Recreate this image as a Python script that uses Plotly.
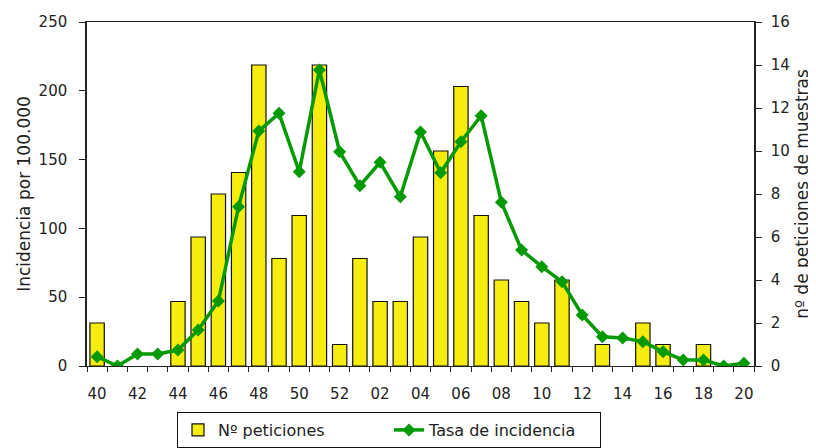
import plotly.graph_objects as go

weeks = ["40","41","42","43","44","45","46","47","48","49","50","51","52",
         "01","02","03","04","05","06","07","08","09","10","11","12","13","14",
         "15","16","17","18","19","20"]
peticiones = [2,0,0,0,3,6,8,9,14,5,7,14,1,
              5,3,3,6,10,13,7,4,3,2,4,0,1,0,2,1,0,1,0,0]
incidencia = [6.8,0,8.7,8.7,11.6,26.2,47.2,115.8,170.8,183.6,141.2,215.1,155.7,
              131.0,148.0,123.0,170.1,140.5,163.0,181.9,119.0,84.3,72.2,61.3,37.1,
              21.3,20.3,17.7,10.4,4.4,4.4,0,2.0]
tick_labels = [w if i % 2 == 0 else "" for i, w in enumerate(weeks)]

FONT = "DejaVu Sans"
# page body has an 8px margin: figure drawn at (8, 8)
W, H = 808, 440
L, R, T, B = 79, 62, 14, 0
plot_w = W - L - R
plot_h = H - T - B
axis_bottom = (H - B - 358) / plot_h

fig = go.Figure()
fig.add_trace(go.Bar(
    x=weeks, y=peticiones, name="Nº peticiones", yaxis="y",
    marker=dict(color="#F7EC0F",
                line=dict(color="#111", width=[1.2 if v > 0 else 0 for v in peticiones])),
))
fig.add_trace(go.Scatter(
    x=weeks, y=incidencia, name="Tasa de incidencia", yaxis="y2",
    mode="lines+markers",
    line=dict(color="#049A04", width=3.5),
    marker=dict(symbol="diamond", size=10, color="#049A04"),
))
fig.update_layout(
    width=W, height=H,
    margin=dict(l=L, r=R, t=T, b=B),
    paper_bgcolor="white", plot_bgcolor="white",
    font=dict(family=FONT, size=15, color="#222"),
    bargap=0.29,
    showlegend=True,
    legend=dict(orientation="h", x=(169 - L) / plot_w, xanchor="left",
                y=0, yanchor="bottom",
                bordercolor="#111", borderwidth=1, font=dict(size=16),
                entrywidth=166, traceorder="normal"),
    xaxis=dict(type="category", tickmode="array", tickvals=weeks, ticktext=tick_labels,
               range=[-0.5, len(weeks) - 0.5],
               tickangle=0, automargin=False, anchor="y",
               ticks="outside", tickson="boundaries", ticklen=5, tickcolor="#222",
               ticklabelstandoff=14,
               showline=True, linecolor="#222", linewidth=1.2, mirror=True,
               showgrid=False),
    yaxis=dict(side="right", range=[0, 16], dtick=2, ticks="outside", ticklen=6,
               automargin=False, domain=[axis_bottom, 1], ticklabelstandoff=6,
               tickcolor="#222", showline=True, linecolor="#222", linewidth=1.5,
               showgrid=False, zeroline=False,
               title=dict(text="nº de peticiones de muestras", font=dict(size=17), standoff=7)),
    yaxis2=dict(side="left", overlaying="y", range=[0, 250], dtick=50, ticks="outside",
                automargin=False, ticklabelstandoff=9,
                ticklen=6, tickcolor="#222", showline=True, linecolor="#222",
                linewidth=1.5, showgrid=False, zeroline=False,
                title=dict(text="Incidencia por 100.000", font=dict(size=17), standoff=4)),
)
fig.write_html("out.html")
